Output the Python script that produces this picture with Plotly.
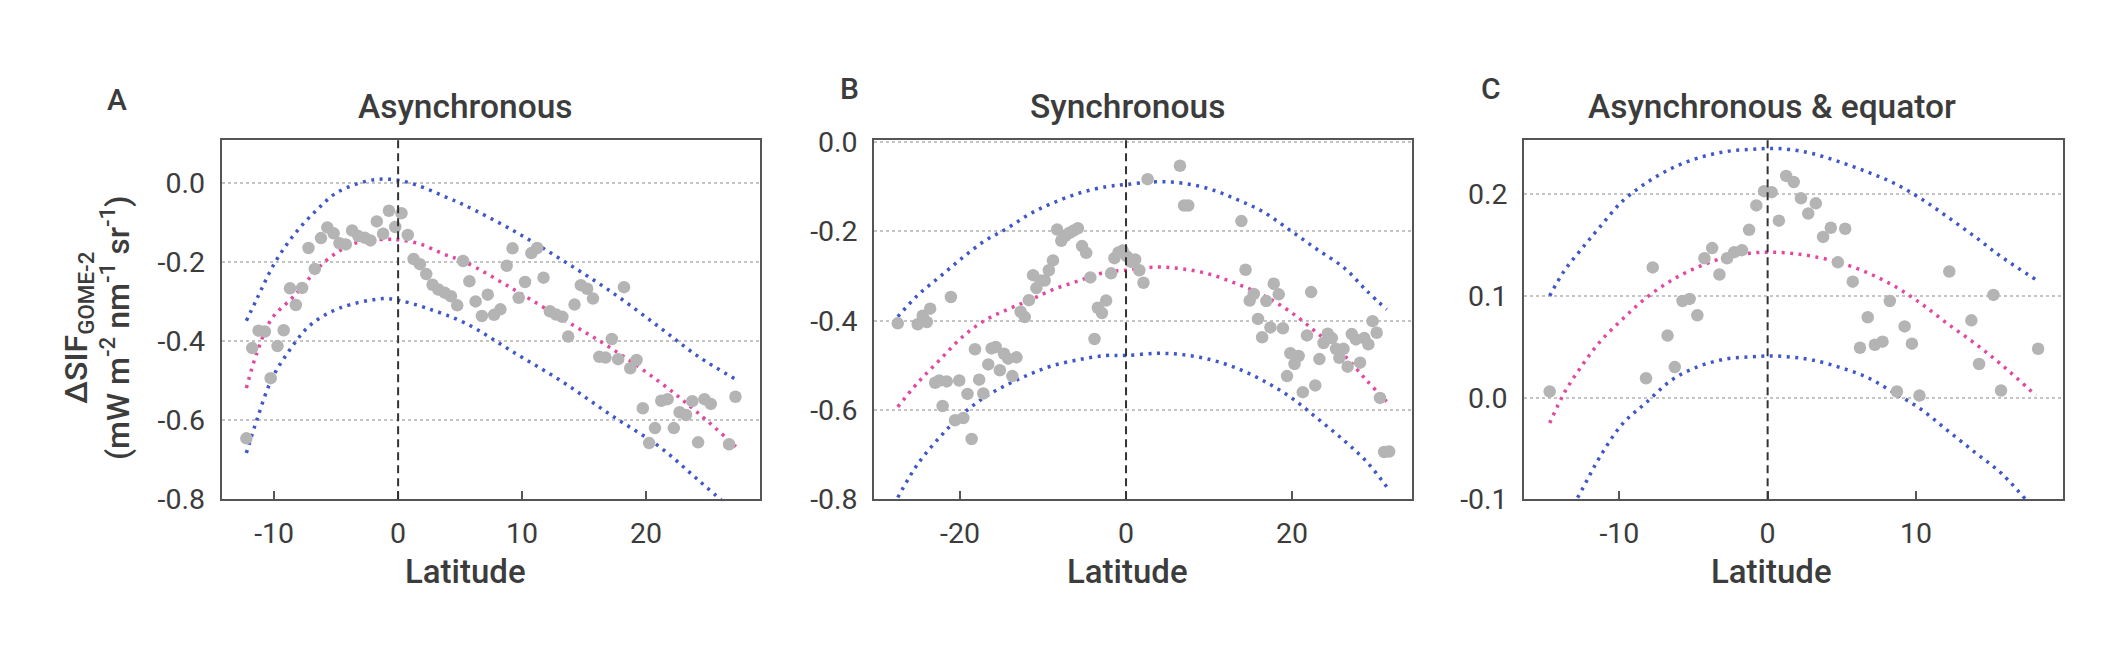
import plotly.graph_objects as go

# ---- Panel A: asynchronous ----
a_lat = [-12.24, -11.77, -11.26, -10.75, -10.28, -9.73, -9.23, -8.72, -8.25, -7.74,
         -7.23, -6.72, -6.22, -5.71, -5.2, -4.73, -4.22, -3.71, -3.21, -2.7,
         -2.23, -1.72, -1.21, -0.74, -0.23, 0.27, 0.78, 1.25, 1.76, 2.27,
         2.78, 3.24, 3.75, 4.26, 4.77, 5.24, 5.75, 6.25, 6.76, 7.23,
         7.74, 8.25, 8.76, 9.23, 9.73, 10.24, 10.75, 11.22, 11.73, 12.24,
         12.74, 13.25, 13.72, 14.23, 14.74, 15.25, 15.72, 16.23, 16.73, 17.24,
         17.75, 18.22, 18.73, 19.23, 19.74, 20.25, 20.72, 21.23, 21.74, 22.24,
         22.71, 23.22, 23.73, 24.2, 24.71, 25.22, 26.7, 27.21]
a_sif = [-0.646, -0.418, -0.374, -0.376, -0.494, -0.413, -0.373, -0.267, -0.309, -0.266,
         -0.165, -0.218, -0.140, -0.113, -0.128, -0.153, -0.156, -0.121, -0.135, -0.139,
         -0.146, -0.098, -0.129, -0.071, -0.112, -0.077, -0.132, -0.193, -0.206, -0.231,
         -0.258, -0.270, -0.278, -0.287, -0.310, -0.198, -0.249, -0.300, -0.337, -0.283,
         -0.334, -0.320, -0.210, -0.166, -0.291, -0.251, -0.178, -0.165, -0.240, -0.325,
         -0.333, -0.339, -0.389, -0.308, -0.259, -0.268, -0.293, -0.440, -0.442, -0.395,
         -0.446, -0.264, -0.469, -0.448, -0.570, -0.658, -0.620, -0.551, -0.547, -0.620,
         -0.580, -0.587, -0.552, -0.656, -0.547, -0.559, -0.661, -0.541]

a_up_lat = [-12.24, -11.4, -9.92, -8.31, -6.56, -4.94, -2.52, -1.18, 0, 1.5, 3.9,
            5.43, 9.34, 13.25, 17.16, 21.07, 24.2, 27.25]
a_up = [-0.349, -0.294, -0.201, -0.128, -0.069, -0.025, 0.004, 0.009, 0.006, -0.006, -0.037,
        -0.058, -0.122, -0.196, -0.275, -0.365, -0.439, -0.497]
a_mid_lat = [-12.24, -11.38, -10.2, -8.44, -5.81, -3.47, -0.91, 0, 1.77, 3.65,
             5.43, 9.34, 13.25, 17.16, 21.07, 24.2, 27.25]
a_mid = [-0.519, -0.429, -0.344, -0.288, -0.197, -0.153, -0.143, -0.144, -0.155, -0.180,
         -0.201, -0.270, -0.344, -0.418, -0.503, -0.582, -0.667]
a_low_lat = [-12.24, -11.38, -10.2, -8.64, -7.08, -4.73, -1.2, 0, 2.3, 5.43,
             9.34, 13.25, 17.16, 21.07, 24.2, 27.25]
a_low = [-0.683, -0.598, -0.497, -0.418, -0.360, -0.317, -0.293, -0.297, -0.317, -0.355,
         -0.429, -0.503, -0.587, -0.667, -0.751, -0.835]

# ---- Panel B: synchronous ----
b_lat = [-27.5, -25.1, -24.5, -24.0, -23.6, -23.0, -22.5, -22.1, -21.6, -21.1,
         -20.6, -20.1, -19.6, -19.1, -18.6, -18.2, -17.7, -17.2, -16.6, -16.2,
         -15.7, -15.2, -14.7, -14.2, -13.7, -13.2, -12.7, -12.2, -11.7, -11.2,
         -10.8, -10.3, -9.8, -9.3, -8.8, -8.3, -7.8, -7.3, -6.8, -6.3,
         -5.8, -5.3, -4.8, -4.3, -3.8, -3.4, -2.9, -2.4, -1.8, -1.4,
         -0.9, -0.4, 0.1, 0.6, 1.1, 1.6, 2.1, 2.6, 6.5, 7.0,
         7.5, 13.9, 14.4, 14.9, 15.4, 15.9, 16.4, 16.9, 17.4, 17.8,
         18.4, 18.9, 19.4, 19.8, 20.3, 20.8, 21.3, 21.8, 22.3, 22.8,
         23.3, 23.8, 24.3, 24.8, 25.3, 25.7, 26.2, 26.7, 27.2, 27.7,
         28.2, 28.7, 29.2, 29.7, 30.2, 30.6, 31.1, 31.7]
b_sif = [-0.406, -0.408, -0.389, -0.403, -0.373, -0.539, -0.534, -0.591, -0.536, -0.347,
         -0.623, -0.534, -0.618, -0.564, -0.665, -0.464, -0.532, -0.563, -0.498, -0.462,
         -0.459, -0.511, -0.474, -0.485, -0.524, -0.482, -0.380, -0.392, -0.354, -0.298,
         -0.327, -0.310, -0.310, -0.287, -0.265, -0.196, -0.221, -0.210, -0.203, -0.198,
         -0.193, -0.233, -0.248, -0.303, -0.441, -0.371, -0.383, -0.355, -0.294, -0.260,
         -0.247, -0.243, -0.256, -0.268, -0.263, -0.287, -0.315, -0.083, -0.053, -0.142,
         -0.142, -0.177, -0.286, -0.355, -0.340, -0.396, -0.437, -0.356, -0.415, -0.317,
         -0.341, -0.417, -0.524, -0.473, -0.497, -0.479, -0.560, -0.433, -0.336, -0.545,
         -0.486, -0.450, -0.429, -0.439, -0.463, -0.483, -0.463, -0.503, -0.430, -0.442,
         -0.494, -0.439, -0.453, -0.401, -0.427, -0.573, -0.694, -0.693]

b_curve_lat = [-27.5, -25.1, -22.4, -19.7, -17.0, -14.3, -11.6, -8.9, -5.6, -2.4, 0,
               3.6, 6.8, 10.1, 13.3, 16.5, 19.8, 23.0, 26.3, 29.0, 31.4]
b_up = [-0.391, -0.343, -0.301, -0.259, -0.221, -0.193, -0.161, -0.137, -0.114, -0.100, -0.095,
        -0.089, -0.092, -0.105, -0.128, -0.156, -0.198, -0.240, -0.282, -0.333, -0.375]
b_mid = [-0.593, -0.539, -0.487, -0.436, -0.399, -0.375, -0.354, -0.331, -0.310, -0.291, -0.287,
         -0.280, -0.284, -0.296, -0.317, -0.343, -0.380, -0.427, -0.478, -0.534, -0.581]
b_low = [-0.796, -0.721, -0.660, -0.609, -0.571, -0.543, -0.520, -0.501, -0.487, -0.478, -0.478,
         -0.473, -0.476, -0.487, -0.506, -0.534, -0.571, -0.618, -0.669, -0.716, -0.772]

# ---- Panel C: asynchronous & equator ----
c_lat = [-14.7, -8.2, -7.75, -6.75, -6.26, -5.74, -5.26, -4.74, -4.26, -3.74,
         -3.25, -2.74, -2.25, -1.73, -1.25, -0.76, -0.24, 0.27, 0.76, 1.25,
         1.76, 2.25, 2.74, 3.25, 3.74, 4.26, 4.74, 5.23, 5.74, 6.23,
         6.75, 7.23, 7.75, 8.24, 8.72, 9.24, 9.73, 10.24, 12.25, 13.74,
         14.26, 15.23, 15.74, 18.24]
c_sif = [0.006, 0.019, 0.128, 0.061, 0.030, 0.095, 0.097, 0.081, 0.137, 0.147,
         0.121, 0.137, 0.143, 0.145, 0.165, 0.189, 0.203, 0.202, 0.174, 0.218,
         0.212, 0.196, 0.181, 0.191, 0.158, 0.167, 0.133, 0.166, 0.114, 0.049,
         0.079, 0.052, 0.055, 0.095, 0.006, 0.070, 0.053, 0.002, 0.124, 0.076,
         0.033, 0.101, 0.007, 0.048]

c_curve_lat = [-14.7, -13.7, -12.5, -11.3, -9.8, -8.2, -6.4, -4.6, -2.8, -1.2, 0.1,
               1.5, 3.0, 4.8, 6.7, 8.5, 10.3, 12.1, 14.0, 15.8, 18.1]
c_up = [0.100, 0.125, 0.147, 0.168, 0.193, 0.211, 0.226, 0.236, 0.242, 0.244, 0.245,
        0.244, 0.240, 0.232, 0.222, 0.211, 0.196, 0.178, 0.158, 0.138, 0.116]
c_mid = [-0.025, 0.005, 0.032, 0.055, 0.077, 0.098, 0.116, 0.129, 0.138, 0.142, 0.143,
         0.142, 0.139, 0.133, 0.123, 0.110, 0.093, 0.073, 0.053, 0.032, 0.002]
c_low = [-0.150, -0.122, -0.090, -0.058, -0.026, -0.005, 0.018, 0.031, 0.038, 0.040, 0.041,
         0.040, 0.037, 0.030, 0.020, 0.005, -0.011, -0.032, -0.054, -0.075, -0.112]

# tick labels
a_yticks = [0.0, -0.2, -0.4, -0.6, -0.8]
b_yticks = [0.0, -0.2, -0.4, -0.6, -0.8]
c_yticks = [0.2, 0.1, 0.0, -0.1]
a_xticks = [-10, 0, 10, 20]
b_xticks = [-20, 0, 20]
c_xticks = [-10, 0, 10]

titles = ["Asynchronous", "Synchronous", "Asynchronous &amp; equator"]
letters = ["A", "B", "C"]

W, H = 2127, 658
BLUE = "#4057c9"
PINK = "#e3479f"
GREY = "#b4b4b4"
TXT = "#3c3c3c"
FONT = "Roboto"


def px(x):
    return x / W


def py(y):
    return 1 - y / H


panels = [
    dict(lat=a_lat, sif=a_sif,
         curves=[(a_up_lat, a_up, BLUE), (a_mid_lat, a_mid, PINK), (a_low_lat, a_low, BLUE)],
         xr=[-14.23, 29.16], yr=[-0.8, 0.107], xt=a_xticks, yt=a_yticks,
         dom=[221.7, 759.6]),
    dict(lat=b_lat, sif=b_sif,
         curves=[(b_curve_lat, b_up, BLUE), (b_curve_lat, b_mid, PINK), (b_curve_lat, b_low, BLUE)],
         xr=[-30.33, 34.42], yr=[-0.8, 0.004], xt=b_xticks, yt=b_yticks,
         dom=[874.3, 1411.7]),
    dict(lat=c_lat, sif=c_sif,
         curves=[(c_curve_lat, c_up, BLUE), (c_curve_lat, c_mid, PINK), (c_curve_lat, c_low, BLUE)],
         xr=[-16.41, 19.9], yr=[-0.1, 0.253], xt=c_xticks, yt=c_yticks,
         dom=[1524.3, 2062.7]),
]

fig = go.Figure()
ydom = [py(499.3), py(140.3)]

for i, p in enumerate(panels):
    n = "" if i == 0 else str(i + 1)
    xa, ya = "x" + n, "y" + n
    for cx, cy, col in p["curves"]:
        fig.add_trace(go.Scatter(
            x=cx, y=cy, mode="lines", xaxis=xa, yaxis=ya,
            line=dict(color=col, width=3.5, dash="3px,5.5px", shape="spline"),
            hoverinfo="skip"))
    fig.add_trace(go.Scatter(
        x=p["lat"], y=p["sif"], mode="markers", xaxis=xa, yaxis=ya,
        marker=dict(color=GREY, size=12.5, line=dict(width=0))))
    # dashed equator line
    fig.add_shape(type="line", xref=xa, yref=ya + " domain", x0=0, x1=0, y0=0, y1=1,
                  line=dict(color="#333333", width=2, dash="8px,5px"))

    common_axis = dict(showline=True, mirror=True, linecolor="#555555", linewidth=2,
                       zeroline=False, automargin=False,
                       tickfont=dict(family=FONT, size=28.5, color=TXT))
    fig.update_layout({
        "xaxis" + n: dict(domain=[px(p["dom"][0]), px(p["dom"][1])], range=p["xr"],
                          anchor=ya, tickvals=p["xt"], ticktext=[str(t) for t in p["xt"]],
                          ticks="inside", ticklen=8, tickwidth=2, tickcolor="#555555",
                          showgrid=False, ticklabelstandoff=7, **common_axis),
        "yaxis" + n: dict(domain=ydom, range=p["yr"], anchor=xa, tickvals=p["yt"],
                          ticktext=[f"{t:.1f}".replace("-0.0", "0.0") for t in p["yt"]],
                          ticks="", showgrid=True, gridcolor="#c4c4c4", gridwidth=1.5,
                          griddash="dot", ticklabelstandoff=9, **common_axis),
    })

ann = []
title_x = [465, 1127.6, 1771.6]
letter_pos = [(117, 99), (849, 88), (1491, 88)]
for i in range(3):
    ann.append(dict(text=titles[i], x=px(title_x[i]), y=py(106), xref="paper", yref="paper",
                    showarrow=False, xanchor="center", yanchor="middle",
                    font=dict(family=FONT, size=33.5, color=TXT, weight=500)))
    ann.append(dict(text="Latitude", x=px(title_x[i]), y=py(571), xref="paper", yref="paper",
                    showarrow=False, xanchor="center", yanchor="middle",
                    font=dict(family=FONT, size=33, color=TXT, weight=500)))
    ann.append(dict(text=letters[i], x=px(letter_pos[i][0]), y=py(letter_pos[i][1]),
                    xref="paper", yref="paper", showarrow=False,
                    xanchor="center", yanchor="middle",
                    font=dict(family=FONT, size=30, color=TXT, weight=500)))

ann.append(dict(text="ΔSIF<sub>GOME-2</sub><br>(mW m<sup>-2</sup> nm<sup>-1</sup> sr<sup>-1</sup>)",
                x=px(97), y=py(328), xref="paper", yref="paper", showarrow=False,
                textangle=-90, xanchor="center", yanchor="middle",
                font=dict(family=FONT, size=32, color=TXT, weight=500)))

fig.update_layout(
    width=W, height=H, margin=dict(l=0, r=0, t=0, b=0, pad=0, autoexpand=False),
    paper_bgcolor="white", plot_bgcolor="white",
    showlegend=False, annotations=ann,
)

# the page's default body margin would offset the figure by a few pixels
fig.write_html("out.html", config={"displayModeBar": False},
               post_script="document.body.style.margin = '0';")
